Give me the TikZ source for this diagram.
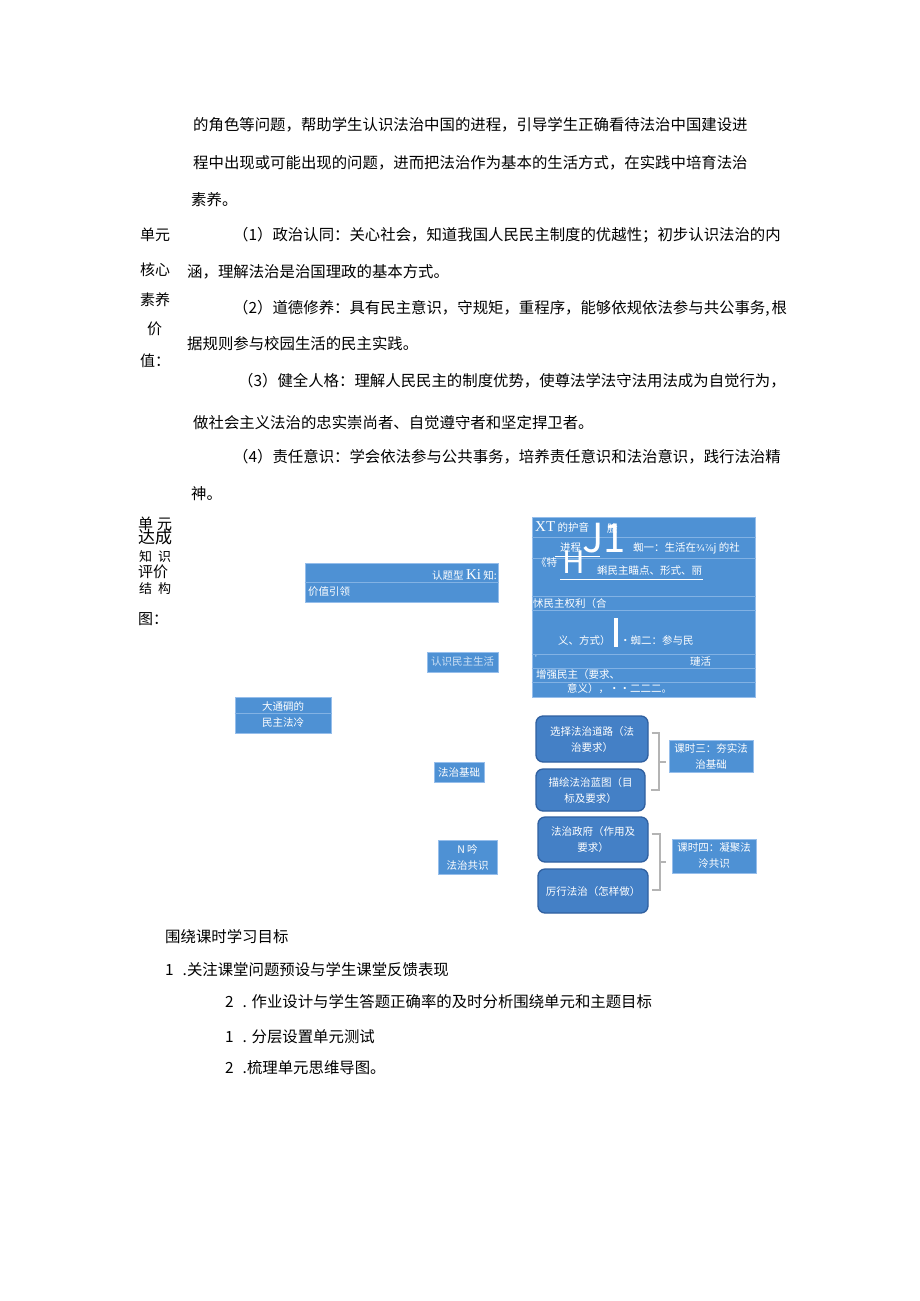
\documentclass[tikz,border=0pt]{standalone}
\usepackage{fontspec}
\setmainfont{Noto Sans CJK SC}
\newfontfamily\romanfont{Liberation Serif}
\newfontfamily\fracfont{DejaVu Sans}
\usetikzlibrary{calc}

\definecolor{boxblue}{RGB}{78,145,212}
\definecolor{boxedge}{RGB}{150,190,235}
\definecolor{sepblue}{RGB}{130,178,228}
\definecolor{roundblue}{RGB}{68,128,198}
\definecolor{roundedge}{RGB}{48,96,160}
\definecolor{bracegray}{RGB}{180,180,180}
\definecolor{paletext}{RGB}{205,225,245}

\begin{document}
\begin{tikzpicture}[x=1pt,y=-1pt]

  \tikzstyle{bodytext}=[anchor=west,inner sep=0pt,font=\fontsize{15.4}{16}\selectfont]
  \tikzstyle{sidetext}=[anchor=west,inner sep=0pt,font=\fontsize{15}{16}\selectfont]
  \tikzstyle{bluebox}=[draw=boxedge,fill=boxblue,shape=rectangle,line width=1pt,inner sep=0pt]
  \tikzstyle{roundbox}=[draw=roundedge,fill=roundblue,shape=rectangle,rounded corners=7pt,line width=1.3pt,inner sep=0pt]
  \tikzstyle{boxtext}=[text=white,inner sep=0pt,font=\fontsize{10.5}{16}\selectfont,align=center]
  \tikzstyle{cell}=[text=white,inner sep=0pt,anchor=west,font=\fontsize{10.5}{12}\selectfont]
  \tikzstyle{sepline}=[draw=sepblue,line width=0.8pt]
  \tikzstyle{bracket}=[draw=bracegray,line width=1.2pt]

  \path[use as bounding box,fill=white] (0,0) rectangle (920,1301);

  % text above the map
  \node[bodytext] (aim1)  at (193,125) {的角色等问题，帮助学生认识法治中国的进程，引导学生正确看待法治中国建设进};
  \node[bodytext] (aim2)  at (193,163) {程中出现或可能出现的问题，进而把法治作为基本的生活方式，在实践中培育法治};
  \node[bodytext] (aim3)  at (191,200) {素养。};

  \node[sidetext] (core1) at (140,235) {单元};
  \node[sidetext] (core2) at (140,270) {核心};
  \node[sidetext] (core3) at (140,300) {素养};
  \node[sidetext] (core4) at (147,329) {价};
  \node[sidetext] (core5) at (140,361) {值：};

  \node[bodytext] (pol1)  at (233,235) {（1）政治认同：关心社会，知道我国人民民主制度的优越性；初步认识法治的内};
  \node[bodytext] (pol2)  at (187,272) {涵，理解法治是治国理政的基本方式。};
  \node[bodytext] (mor1)  at (233,308) {（2）道德修养：具有民主意识，守规矩，重程序，能够依规依法参与共公事务,\hspace{2pt}根};
  \node[bodytext] (mor2)  at (187,344) {据规则参与校园生活的民主实践。};
  \node[bodytext] (per1)  at (238,381) {（3）健全人格：理解人民民主的制度优势，使尊法学法守法用法成为自觉行为，};
  \node[bodytext] (per2)  at (193,423) {做社会主义法治的忠实崇尚者、自觉遵守者和坚定捍卫者。};
  \node[bodytext] (res1)  at (233,457) {（4）责任意识：学会依法参与公共事务，培养责任意识和法治意识，践行法治精};
  \node[bodytext] (res2)  at (191,494) {神。};

  % side label of the map
  \node[sidetext] (map1) at (138,524) {单\hspace{4pt}元};
  \node[sidetext,font=\fontsize{17}{17}\selectfont] (map2) at (138,537) {达成};
  \node[sidetext,font=\fontsize{13}{13}\selectfont] (map3) at (139,557) {知\hspace{6pt}识};
  \node[sidetext] (map4) at (138,572) {评价};
  \node[sidetext,font=\fontsize{13}{13}\selectfont] (map5) at (139,589) {结\hspace{6pt}构};
  \node[sidetext] (map6) at (138,619) {图：};

  % left column
  \node[bluebox,minimum width=193,minimum height=39] (valuebox) at (401.5,582.5) {};
  \draw[sepline] (valuebox.west |- 0,582) -- (valuebox.east |- 0,582);
  \node[cell,anchor=east] (valuetop) at (497,575) {认题型 {\romanfont\fontsize{15}{15}\selectfont Ki} 知:};
  \node[cell] (valuebot) at (308,592) {价值引领};

  \node[bluebox,minimum width=71,minimum height=20] (lifebox) at (462.5,662) {};
  \node[boxtext,text=paletext] (lifetext) at (lifebox) {认识民主生活};

  \node[bluebox,minimum width=96,minimum height=36] (unitbox) at (283,715) {};
  \draw[sepline] (unitbox.west |- 0,713) -- (unitbox.east |- 0,713);
  \node[boxtext] (unittext) at (283,715) {大通碉的\\民主法冷};

  \node[bluebox,minimum width=50,minimum height=20] (basebox) at (459,772) {};
  \node[boxtext] (basetext) at (basebox) {法治基础};

  \node[bluebox,minimum width=59,minimum height=34] (consbox) at (467.5,857) {};
  \node[boxtext] (constext) at (consbox) {N 吟\\法治共识};

  % big box, lessons one and two
  \node[bluebox,minimum width=223,minimum height=180] (lifemap) at (643.5,607) {};
  \foreach \y in {537,558,596,610,654,668,682}
    \draw[sepline] (lifemap.west |- 0,\y) -- (lifemap.east |- 0,\y);
  \node[cell] (xt) at (535,527) {{\romanfont\fontsize{15}{15}\selectfont XT} 的护音};
  \node[cell] (lian) at (607,528) {脸};
  \node[cell] (jinch) at (560,548) {进程};
  \node[cell] (kone) at (633,548) {蜘一：生活在{\fracfont\fontsize{9}{9}\selectfont ¾⅞}j 的社};
  \node[cell] (tei) at (536,563) {《特};
  \node[cell] (minzhu) at (597,571) {蝌民主瞄点、形式、丽};
  \draw[white,line width=0.8pt] (555,556) -- (600,556);
  \draw[white,line width=0.8pt] (560,579) -- (703,579);
  \node[text=white,inner sep=0pt,font=\fontsize{40}{40}\selectfont] (bigj) at (604,538) {J1};
  \node[text=white,inner sep=0pt,font=\fontsize{31}{31}\selectfont] (bigh) at (574,562) {H};
  \node[cell] (quan) at (533,604) {怵民主权利（合};
  \fill[white] (614,618) rectangle (618,647);
  \node[cell] (fangshi) at (558,641) {义、方式）};
  \node[cell] (ktwo) at (620,641) {·蜘二：参与民};
  \node[cell,font=\fontsize{7}{7}\selectfont] (tick) at (535,659) {'};
  \node[cell] (lianhuo) at (690,662) {璉活};
  \node[cell] (zeng) at (536,675) {增强民主（要求、};
  \node[cell] (yiyi) at (567,689) {意义），••二二二。};

  % lessons three and four
  \node[roundbox,minimum width=112,minimum height=46] (road)  at (592,739) {};
  \node[boxtext] at (road) {选择法治道路（法\\治要求）};
  \node[roundbox,minimum width=109,minimum height=42] (plan)  at (590.5,790) {};
  \node[boxtext] at (plan) {描绘法治蓝图（目\\标及要求）};
  \node[roundbox,minimum width=110,minimum height=45] (gov)   at (593,839.5) {};
  \node[boxtext] at (gov) {法治政府（作用及\\要求）};
  \node[roundbox,minimum width=110,minimum height=44] (act)   at (593,891) {};
  \node[boxtext] at (act) {厉行法治（怎样做）};

  \node[bluebox,minimum width=84,minimum height=32] (lesson3) at (711,756) {};
  \node[boxtext] at (lesson3) {课时三：夯实法\\治基础};
  \node[bluebox,minimum width=84,minimum height=34] (lesson4) at (714,856) {};
  \node[boxtext] at (lesson4) {课时四：凝聚法\\泠共识};

  \coordinate (nub3) at (666,762);
  \coordinate (nub4) at (666,862);
  \draw[bracket] (road.east |- 0,733) ++(3,0) -- (659,733) -- (659,790) -- ($(plan.east |- 0,790)+(5,0)$);
  \draw[bracket] (659,762) -- (nub3);
  \draw[bracket] (gov.east |- 0,834) ++(3,0) -- (660,834) -- (660,890) -- ($(act.east |- 0,890)+(3,0)$);
  \draw[bracket] (660,862) -- (nub4);

  % text below the map
  \node[bodytext] (goal0) at (165,937)  {围绕课时学习目标};
  \node[bodytext] (goal1) at (165,970)  {1\hspace{9pt}.关注课堂问题预设与学生课堂反馈表现};
  \node[bodytext] (goal2) at (225,1002) {2\hspace{9pt}. 作业设计与学生答题正确率的及时分析围绕单元和主题目标};
  \node[bodytext] (goal3) at (225,1037) {1\hspace{9pt}. 分层设置单元测试};
  \node[bodytext] (goal4) at (225,1068) {2\hspace{9pt}.梳理单元思维导图。};
\end{tikzpicture}
\end{document}
